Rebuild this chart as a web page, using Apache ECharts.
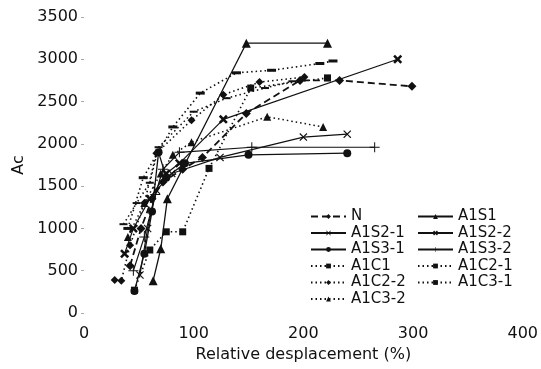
<!DOCTYPE html>
<html>
<head>
<meta charset="utf-8">
<script src="https://cdn.jsdelivr.net/npm/echarts@6/dist/echarts.min.js"></script>
<style>
  html, body { margin: 0; padding: 0; background: #fff; }
  #main { width: 541px; height: 369px; }
</style>
</head>
<body>
<div id="main"></div>
<script>
// values: [relative displacement %, Ac]
var dataN      = [[42,560],[52,1000],[62,1350],[72,1550],[90,1700],[108,1840],[148,2360],[197,2750],[233,2750],[299,2680]];
var dataA1S1   = [[63,380],[70,760],[76,1350],[148,3190],[222,3190]];
var dataA1S21  = [[51,450],[58,1000],[66,1450],[80,1650],[124,1840],[200,2080],[240,2115]];
var dataA1S22  = [[37,700],[45,1000],[60,1350],[75,1650],[87,1770],[127,2290],[286,3000]];
var dataA1S31  = [[46,260],[55,700],[62,1200],[68,1900],[75,1600],[92,1770],[150,1870],[240,1890]];
var dataA1S32  = [[45,500],[55,900],[65,1400],[72,1700],[87,1900],[153,1960],[265,1960]];
var dataA1C1   = [[36,1050],[48,1300],[60,1540],[68,1960],[100,2380],[130,2540],[165,2660],[190,2740]];
var dataA1C21  = [[40,1000],[54,1600],[81,2200],[106,2600],[139,2840],[171,2870],[215,2950],[227,2980]];
var dataA1C22  = [[28,390],[34,380],[42,800],[55,1300],[66,1890],[98,2280],[127,2580],[160,2730],[201,2790]];
var dataA1C31  = [[46,270],[60,745],[75,960],[90,960],[114,1710],[152,2660],[222,2780]];
var dataA1C32  = [[40,900],[55,1300],[70,1650],[81,1870],[98,2020],[167,2320],[218,2200]];

var xTicks = [0, 100, 200, 300, 400];
var yTicks = [0, 500, 1000, 1500, 2000, 2500, 3000, 3500];

var leftNames  = ['N', 'A1S2-1', 'A1S3-1', 'A1C1', 'A1C2-2', 'A1C3-2'];
var rightNames = ['A1S1', 'A1S2-2', 'A1S3-2', 'A1C2-1', 'A1C3-1'];

var font = 'DejaVu Sans';
var ink = '#111';

// marker shapes that echarts doesn't ship
var xThin  = 'path://M0,1L1,0L5,4L9,0L10,1L6,5L10,9L9,10L5,6L1,10L0,9L4,5Z';
var xBold  = 'path://M0,2L2,0L5,3L8,0L10,2L7,5L10,8L8,10L5,7L2,10L0,8L3,5Z';
var plus   = 'path://M4.5,0H5.5V4.5H10V5.5H5.5V10H4.5V5.5H0V4.5H4.5Z';

function mk(name, data, type, width, symbol, size) {
  return {
    name: name,
    type: 'line',
    data: data,
    symbol: symbol,
    symbolSize: size,
    showAllSymbol: true,
    animation: false,
    lineStyle: { color: ink, width: width, type: type },
    itemStyle: { color: ink, borderWidth: 0 },
    emphasis: { disabled: true }
  };
}

var dotted = [1.5, 3];
var series = [
  mk('N', dataN, [7, 4], 1.8, 'diamond', 9),
  mk('A1S1', dataA1S1, 'solid', 1.3, 'triangle', 9),
  mk('A1S2-1', dataA1S21, 'solid', 1.2, xThin, 8),
  mk('A1S2-2', dataA1S22, 'solid', 1.2, xBold, 9),
  mk('A1S3-1', dataA1S31, 'solid', 1.3, 'circle', 8),
  mk('A1S3-2', dataA1S32, 'solid', 1.2, plus, 10),
  mk('A1C1', dataA1C1, dotted, 1.5, 'rect', [8, 2]),
  mk('A1C2-1', dataA1C21, dotted, 1.6, 'rect', [9, 3]),
  mk('A1C2-2', dataA1C22, dotted, 1.6, 'diamond', 8),
  mk('A1C3-1', dataA1C31, dotted, 1.6, 'rect', 7),
  mk('A1C3-2', dataA1C32, dotted, 1.5, 'triangle', 8)
];

function legendAt(names, left) {
  return {
    data: names,
    orient: 'vertical',
    left: left,
    top: 209,
    padding: 0,
    itemWidth: 35,
    itemHeight: 6,
    itemGap: 1.5,
    selectedMode: false,
    textStyle: { fontFamily: font, fontSize: 15, color: ink, lineHeight: 14 }
  };
}

var myChart = echarts.init(document.getElementById('main'), null, { renderer: 'canvas' });
var option = {
  backgroundColor: '#fff',
  animation: false,
  grid: { left: 84, right: 18, top: 17, bottom: 56 },
  legend: [legendAt(leftNames, 310), legendAt(rightNames, 417)],
  xAxis: {
    type: 'value',
    min: xTicks[0],
    max: xTicks[xTicks.length - 1],
    interval: 100,
    name: 'Relative desplacement (%)',
    nameLocation: 'middle',
    nameGap: 33,
    nameTextStyle: { fontFamily: font, fontSize: 16, color: ink },
    axisLine: { show: false },
    axisTick: { show: false },
    splitLine: { show: false },
    axisLabel: { fontFamily: font, fontSize: 16, color: ink, margin: 13, formatter: function (v) { return String(v); } }
  },
  yAxis: {
    type: 'value',
    min: yTicks[0],
    max: yTicks[yTicks.length - 1],
    interval: 500,
    name: 'Ac',
    nameLocation: 'middle',
    nameGap: 48,
    nameTextStyle: { fontFamily: font, fontSize: 16, color: ink },
    axisLine: { show: false },
    axisTick: { show: true, length: 3, lineStyle: { color: '#aaa' } },
    splitLine: { show: false },
    axisLabel: { fontFamily: font, fontSize: 16, color: ink, margin: 6, formatter: function (v) { return String(v); } }
  },
  series: series
};
myChart.setOption(option);
</script>
</body>
</html>
